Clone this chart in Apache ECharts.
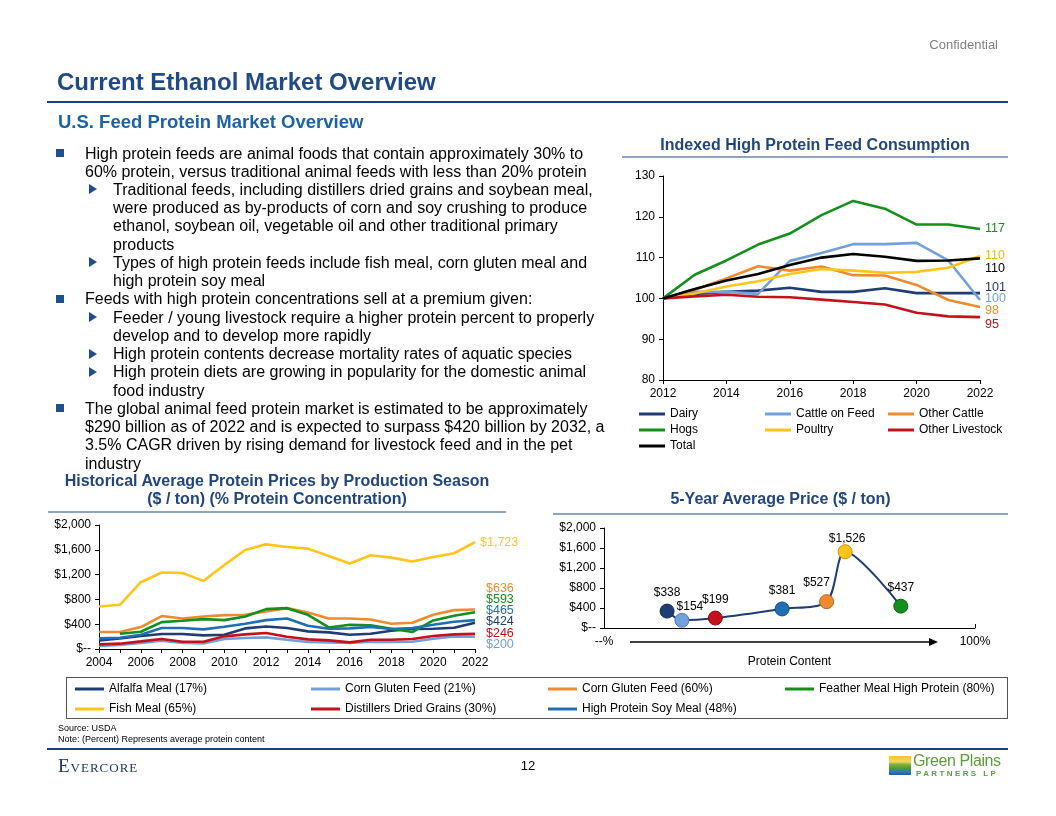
<!DOCTYPE html>
<html>
<head>
<meta charset="utf-8">
<script src="https://cdn.jsdelivr.net/npm/echarts/dist/echarts.min.js"></script>
<style>
  html,body{margin:0;padding:0;background:#fff;}
  #page{position:relative;width:1056px;height:816px;overflow:hidden;font-family:"Liberation Sans",Arial,sans-serif;color:#000;}
  #chart{position:absolute;left:0;top:0;width:1056px;height:816px;}
  .t{position:absolute;white-space:nowrap;}
  .rule{position:absolute;}
</style>
</head>
<body>
<div id="page">
  <div id="chart"></div>
</div>
<script>
// ---------------- DATA ----------------
const feedYears = ['2012','2013','2014','2015','2016','2017','2018','2019','2020','2021','2022'];
const dairy          = [100,101.1,101.6,101.9,102.6,101.6,101.6,102.5,101.3,101.3,101.3];
const cattleOnFeed   = [100,101.6,101.6,101.1,109.2,111.1,113.3,113.3,113.6,109.3,99.6];
const otherCattle    = [100,102.1,104.9,107.9,106.8,107.8,105.7,105.6,103.3,99.6,97.9];
const hogs           = [100,105.8,109.3,113.2,115.9,120.4,123.9,122.0,118.1,118.1,117.0];
const poultry        = [100,101.2,102.9,104.2,106.0,107.2,106.8,106.3,106.5,107.5,110.4];
const otherLivestock = [100,100.5,100.9,100.4,100.3,99.7,99.1,98.5,96.5,95.6,95.4];
const totalFeed      = [100,102.3,104.4,106.0,108.2,110.0,110.9,110.2,109.2,109.3,109.8];

const priceYears = ['2004','2005','2006','2007','2008','2009','2010','2011','2012','2013','2014','2015','2016','2017','2018','2019','2020','2021','2022'];
const alfalfaMeal    = [139,172,209,241,241,220,230,332,364,338,284,268,230,247,295,322,327,343,424];
const cornGlutenFeed = [48,64,96,134,96,91,161,177,188,150,113,107,96,118,113,118,166,204,200];
const cornGlutenMeal = [273,273,354,531,493,525,547,552,606,659,590,493,493,477,407,423,552,627,636];
const featherMeal    = [null,247,279,434,456,482,466,525,643,659,552,348,391,381,327,273,461,536,593];
const fishMeal       = [686,713,1077,1233,1227,1099,1356,1597,1688,1646,1619,1501,1378,1512,1474,1410,1485,1544,1723];
const distillersDG   = [75,86,123,161,118,118,204,236,257,198,155,139,107,150,150,161,209,236,246];
const hpSoyMeal      = [172,182,230,338,338,316,359,407,466,493,375,327,332,354,322,338,391,440,465];

const proteinPct   = [17,21,30,48,60,65,80];
const fiveYearAvg  = [338,154,199,381,527,1526,437];

const feedTicks  = {min:80,max:130,step:10};
const priceTicks = {min:0,max:2000,step:400};

// ---------------- STYLE ----------------
const C = {navy:'#1F3C74', light:'#72A0DA', orange:'#EF8A2E', green:'#138F1B', yellow:'#FFC41C', red:'#C3121B', blue:'#1F6FB5', black:'#000000'};
const FONT = '"Liberation Sans", Arial, sans-serif';
const pointColors = [C.navy,C.light,C.red,C.blue,C.orange,C.yellow,C.green];
const pointBorders = ['#15284d','#4c78b4','#8a0c12','#134d80','#b4621c','#c7930b','#0c5f12'];

// ---------------- TEXT LAYOUT (HTML) ----------------
const page = document.getElementById('page');
function addText(txt, css){ const d=document.createElement('div'); d.className='t'; d.textContent=txt; Object.assign(d.style,css); page.appendChild(d); return d; }
function addRule(l,t,w,h,color){ const d=document.createElement('div'); d.className='rule'; Object.assign(d.style,{left:l+'px',top:t+'px',width:w+'px',height:h+'px',background:color}); page.appendChild(d); return d; }

addText('Confidential',{right:'58px',top:'37px',fontSize:'13px',color:'#7f7f7f'});
addText('Current Ethanol Market Overview',{left:'57px',top:'68px',fontSize:'24px',fontWeight:'bold',color:'#1F4A86',lineHeight:'28px'});
addRule(47,101,961,2,'#1F3F7A');
addText('U.S. Feed Protein Market Overview',{left:'58px',top:'111px',fontSize:'18.5px',fontWeight:'bold',color:'#1B63A6',lineHeight:'22px'});

const bulletLines = [
  [1,true,'High protein feeds are animal foods that contain approximately 30% to'],
  [1,false,'60% protein, versus traditional animal feeds with less than 20% protein'],
  [2,true,'Traditional feeds, including distillers dried grains and soybean meal,'],
  [2,false,'were produced as by-products of corn and soy crushing to produce'],
  [2,false,'ethanol, soybean oil, vegetable oil and other traditional primary'],
  [2,false,'products'],
  [2,true,'Types of high protein feeds include fish meal, corn gluten meal and'],
  [2,false,'high protein soy meal'],
  [1,true,'Feeds with high protein concentrations sell at a premium given:'],
  [2,true,'Feeder / young livestock require a higher protein percent to properly'],
  [2,false,'develop and to develop more rapidly'],
  [2,true,'High protein contents decrease mortality rates of aquatic species'],
  [2,true,'High protein diets are growing in popularity for the domestic animal'],
  [2,false,'food industry'],
  [1,true,'The global animal feed protein market is estimated to be approximately'],
  [1,false,'$290 billion as of 2022 and is expected to surpass $420 billion by 2032, a'],
  [1,false,'3.5% CAGR driven by rising demand for livestock feed and in the pet'],
  [1,false,'industry']
];
bulletLines.forEach((ln,i)=>{
  const cy = 153 + i*18.24;
  const left = ln[0]===1 ? 85 : 113;
  addText(ln[2],{left:left+'px',top:(cy-9.5)+'px',fontSize:'16px',lineHeight:'19px'});
  if(ln[1]){
    if(ln[0]===1){
      addRule(56,cy-4,8,8,'#1F4E8C');
    } else {
      const tri=document.createElement('div');
      Object.assign(tri.style,{position:'absolute',left:'89px',top:(cy-5)+'px',width:0,height:0,borderTop:'5px solid transparent',borderBottom:'5px solid transparent',borderLeft:'8px solid #1F4E8C'});
      page.appendChild(tri);
    }
  }
});

// chart titles
addText('Indexed High Protein Feed Consumption',{left:'622px',width:'386px',textAlign:'center',top:'135px',fontSize:'16px',fontWeight:'bold',color:'#21457E',lineHeight:'19px'});
addRule(622,156,386,1.5,'#8DA3C0');
addText('Historical Average Protein Prices by Production Season',{left:'48px',width:'458px',textAlign:'center',top:'471px',fontSize:'16px',fontWeight:'bold',color:'#21457E',lineHeight:'19px'});
addText('($ / ton) (% Protein Concentration)',{left:'48px',width:'458px',textAlign:'center',top:'489px',fontSize:'16px',fontWeight:'bold',color:'#21457E',lineHeight:'19px'});
addRule(48,511,458,1.5,'#8DA3C0');
addText('5-Year Average Price ($ / ton)',{left:'553px',width:'455px',textAlign:'center',top:'489px',fontSize:'16px',fontWeight:'bold',color:'#21457E',lineHeight:'19px'});
addRule(553,513,455,1.5,'#8DA3C0');

// legend frame for bottom-left chart
const box=document.createElement('div');
Object.assign(box.style,{position:'absolute',left:'66px',top:'677px',width:'940px',height:'40px',border:'1px solid #555'});
page.appendChild(box);

// footer
addText('Source: USDA',{left:'58px',top:'723px',fontSize:'9px',lineHeight:'11px'});
addText('Note: (Percent) Represents average protein content',{left:'58px',top:'734px',fontSize:'9px',lineHeight:'11px'});
addRule(47,748,961,2,'#1F3F7A');
addText('Evercore',{left:'58px',top:'755px',fontSize:'19px',fontFamily:'"Liberation Serif","DejaVu Serif",serif',fontVariant:'small-caps',letterSpacing:'1px',color:'#1F3864',lineHeight:'21px'});
addText('12',{left:'518px',width:'20px',textAlign:'center',top:'758px',fontSize:'13px',lineHeight:'16px'});
// Green Plains mark
(function(){
  const g=document.createElement('div');
  Object.assign(g.style,{position:'absolute',left:'889px',top:'756px',width:'22px',height:'19px',overflow:'hidden',background:'linear-gradient(180deg,#F4C430 0%,#F6D55C 30%,#7FB03A 45%,#4E9A35 65%,#2F7FC0 80%,#1E5E9E 100%)'});
  page.appendChild(g);
  addText('Green Plains',{left:'913px',top:'752px',fontSize:'16px',color:'#5E9B3A',lineHeight:'17px',letterSpacing:'-0.4px'});
  addText('PARTNERS LP',{left:'916px',top:'769px',fontSize:'8px',color:'#5E9B3A',lineHeight:'9px',letterSpacing:'2.4px',fontWeight:'bold'});
})();

// ---------------- ECHARTS ----------------
const chart = echarts.init(document.getElementById('chart'), null, {renderer:'canvas'});
const axLine = {show:true,lineStyle:{color:'#000',width:1}};
const axTick = {show:true,length:4,lineStyle:{color:'#000',width:1}};
const axLabel = {color:'#000',fontSize:12,fontFamily:FONT};
const dollar = v => v===0 ? '$--' : '$' + v.toLocaleString('en-US');

function feedSeries(name,data,color,dy,lblColor){
  return {name,type:'line',xAxisIndex:0,yAxisIndex:0,data,symbol:'none',smooth:false,
    lineStyle:{color,width:2.6},itemStyle:{color},z:name==='Total'?5:3,
    endLabel:{show:true,formatter:p=>Math.round(p.value),color:lblColor||color,fontSize:12.5,fontFamily:FONT,distance:5,offset:[0,dy]},
    emphasis:{disabled:true}};
}
function priceSeries(name,data,color,dx,dy){
  return {name,type:'line',xAxisIndex:1,yAxisIndex:1,data,symbol:'none',smooth:false,connectNulls:false,
    lineStyle:{color,width:2.6},itemStyle:{color},
    endLabel:{show:true,formatter:p=>dollar(p.value),color,fontSize:12.5,fontFamily:FONT,distance:5,offset:[dx,dy]},
    emphasis:{disabled:true}};
}
function legendCol(left,top,data,w,lh){
  return {show:true,orient:'vertical',left,top,data,icon:'rect',itemWidth:w,itemHeight:3,itemGap:0,
    selectedMode:false,padding:0,textStyle:{color:'#000',fontSize:12,fontFamily:FONT,lineHeight:lh}};
}

const option = {
  animation:false,
  backgroundColor:'transparent',
  textStyle:{fontFamily:FONT},
  grid:[
    {left:663,top:176,width:317,height:204,containLabel:false,outerBoundsMode:'none'},
    {left:99,top:525,width:376,height:124,containLabel:false,outerBoundsMode:'none'},
    {left:604,top:528,width:371,height:100,containLabel:false,outerBoundsMode:'none'}
  ],
  xAxis:[
    {gridIndex:0,type:'category',data:feedYears,boundaryGap:false,axisLine:axLine,
      axisTick:Object.assign({},axTick,{interval:1}),axisLabel:Object.assign({},axLabel,{interval:1,margin:8}),splitLine:{show:false}},
    {gridIndex:1,type:'category',data:priceYears,boundaryGap:false,axisLine:axLine,
      axisTick:Object.assign({},axTick,{interval:0}),axisLabel:Object.assign({},axLabel,{interval:1,margin:8}),splitLine:{show:false}},
    {gridIndex:2,type:'value',min:0,max:100,interval:100,axisLine:axLine,
      axisTick:Object.assign({},axTick,{inside:true}),axisLabel:Object.assign({},axLabel,{margin:8,formatter:v=>v===0?'--%':v+'%'}),
      splitLine:{show:false},name:'Protein Content',nameLocation:'middle',nameGap:28,nameTextStyle:{color:'#000',fontSize:12,fontFamily:FONT}}
  ],
  yAxis:[
    {gridIndex:0,type:'value',min:feedTicks.min,max:feedTicks.max,interval:feedTicks.step,axisLine:axLine,axisTick:axTick,axisLabel:axLabel,splitLine:{show:false}},
    {gridIndex:1,type:'value',min:priceTicks.min,max:priceTicks.max,interval:priceTicks.step,axisLine:axLine,axisTick:axTick,axisLabel:Object.assign({},axLabel,{formatter:dollar}),splitLine:{show:false}},
    {gridIndex:2,type:'value',min:priceTicks.min,max:priceTicks.max,interval:priceTicks.step,axisLine:axLine,axisTick:axTick,axisLabel:Object.assign({},axLabel,{formatter:dollar}),splitLine:{show:false}}
  ],
  legend:[
    legendCol(639,406,['Dairy','Hogs','Total'],26,16),
    legendCol(765,406,['Cattle on Feed','Poultry'],26,16),
    legendCol(888,406,['Other Cattle','Other Livestock'],26,16),
    legendCol(75,679,['Alfalfa Meal (17%)','Fish Meal (65%)'],29,20),
    legendCol(311,679,['Corn Gluten Feed (21%)','Distillers Dried Grains (30%)'],29,20),
    legendCol(548,679,['Corn Gluten Feed (60%)','High Protein Soy Meal (48%)'],29,20),
    legendCol(785,679,['Feather Meal High Protein (80%)'],29,20)
  ],
  series:[
    feedSeries('Dairy',dairy,C.navy,-6),
    feedSeries('Cattle on Feed',cattleOnFeed,C.light,-1),
    feedSeries('Other Cattle',otherCattle,C.orange,4),
    feedSeries('Hogs',hogs,C.green,0),
    feedSeries('Poultry',poultry,C.yellow,0,'#F2B800'),
    feedSeries('Other Livestock',otherLivestock,C.red,7),
    feedSeries('Total',totalFeed,C.black,10),

    priceSeries('Alfalfa Meal (17%)',alfalfaMeal,C.navy,6,-1),
    priceSeries('Corn Gluten Feed (21%)',cornGlutenFeed,C.light,6,8),
    priceSeries('Corn Gluten Feed (60%)',cornGlutenMeal,C.orange,6,-21),
    priceSeries('Feather Meal High Protein (80%)',featherMeal,C.green,6,-13),
    priceSeries('Fish Meal (65%)',fishMeal,C.yellow,0,0),
    priceSeries('Distillers Dried Grains (30%)',distillersDG,C.red,6,0),
    priceSeries('High Protein Soy Meal (48%)',hpSoyMeal,C.blue,6,-10),

    {name:'5-Year Average Price',type:'line',xAxisIndex:2,yAxisIndex:2,smooth:0.3,
      data:proteinPct.map((p,i)=>({value:[p,fiveYearAvg[i]],
        itemStyle:{color:pointColors[i],borderColor:pointBorders[i],borderWidth:1},
        label:{offset:[[0,0],[8,5],[0,0],[0,0],[-10,0],[2,5],[0,0]][i]}})),
      symbol:'circle',symbolSize:14,showAllSymbol:true,
      lineStyle:{color:'#1F3C74',width:2},
      label:{show:true,position:'top',distance:5,color:'#000',fontSize:12,fontFamily:FONT,formatter:p=>dollar(p.value[1])},
      emphasis:{disabled:true},z:4}
  ],
  graphic:[
    {type:'line',shape:{x1:630,y1:642,x2:930,y2:642},style:{stroke:'#000',lineWidth:1.5},silent:true},
    {type:'polygon',shape:{points:[[929,638],[938,642],[929,646]]},style:{fill:'#000'},silent:true}
  ]
};
chart.setOption(option);
</script>
</body>
</html>
